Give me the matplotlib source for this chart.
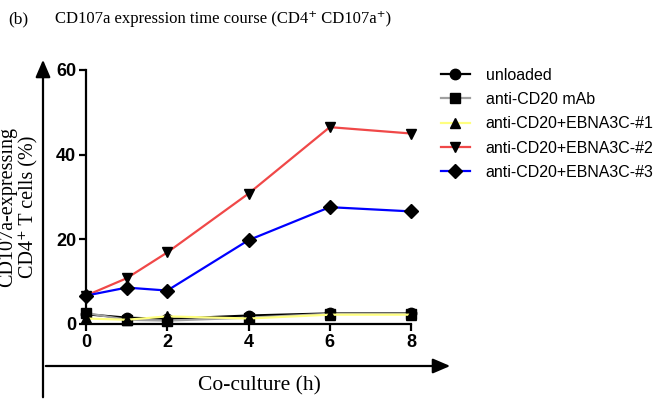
import matplotlib
matplotlib.use("Agg")
import matplotlib.pyplot as plt

time_h = [0, 1, 2, 4, 6, 8]
unloaded = [2.3, 1.5, 1.2, 2.0, 2.5, 2.5]
anti_cd20 = [2.6, 1.0, 0.8, 1.5, 2.4, 2.4]
ebna1 = [1.3, 1.0, 1.8, 1.3, 2.2, 2.2]
ebna2 = [6.7, 10.8, 16.9, 30.8, 46.5, 45.0]
ebna3 = [6.7, 8.6, 7.9, 19.8, 27.6, 26.6]

series_names = ["unloaded", "anti-CD20 mAb", "anti-CD20+EBNA3C-#1",
                "anti-CD20+EBNA3C-#2", "anti-CD20+EBNA3C-#3"]
series_values = [unloaded, anti_cd20, ebna1, ebna2, ebna3]
colors = ["#000000", "#a0a0a0", "#ffff80", "#f04848", "#0000ff"]
markers = ["o", "s", "^", "v", "D"]
x_ticks = [0, 2, 4, 6, 8]
y_ticks = [0, 20, 40, 60]

W, H = 659, 400
fig = plt.figure(figsize=(W / 100, H / 100), dpi=100)

left, right, bottom, top = 86, 411, 324, 70
ax = fig.add_axes([left / W, 1 - bottom / H, (right - left) / W, (bottom - top) / H])

handles = []
for name, vals, c, m in zip(series_names, series_values, colors, markers):
    ms = 7.5 if m != "D" else 7
    (ln,) = ax.plot(time_h, vals, color=c, lw=1.6, marker=m, markersize=ms,
                    markerfacecolor="black", markeredgecolor="black",
                    clip_on=False, label=name, zorder=3)
    handles.append(ln)

ax.set_xlim(0, 8)
ax.set_ylim(0, 60)
ax.set_xticks(x_ticks)
ax.set_yticks(y_ticks)
for s in ["top", "right"]:
    ax.spines[s].set_visible(False)
for s in ["left", "bottom"]:
    ax.spines[s].set_linewidth(1.6)
ax.tick_params(axis="both", direction="out", length=5, width=1.6, pad=2)
for lab in ax.get_xticklabels() + ax.get_yticklabels():
    lab.set_family(["Liberation Sans", "DejaVu Sans"])
    lab.set_fontweight("bold")
    lab.set_fontsize(13)

leg = fig.legend(handles=handles, loc="upper left",
                 bbox_to_anchor=(436 / W, 1 - 63 / H), frameon=False,
                 handlelength=1.8, handletextpad=1.0, labelspacing=0.58,
                 borderaxespad=0, borderpad=0.3,
                 prop={"family": ["Liberation Sans", "DejaVu Sans"], "size": 11.5})

# outer arrows
fig.add_artist(matplotlib.patches.FancyArrowPatch(
    (43 / W, 0.0), (43 / W, 1 - 57 / H), transform=fig.transFigure,
    arrowstyle="-|>,head_length=7,head_width=3", color="black", lw=1.6,
    mutation_scale=1.5))
fig.add_artist(matplotlib.patches.FancyArrowPatch(
    (43 / W, 1 - 366 / H), (453 / W, 1 - 366 / H), transform=fig.transFigure,
    arrowstyle="-|>,head_length=7,head_width=3", color="black", lw=1.6,
    mutation_scale=1.5))

serif = ["Liberation Serif", "DejaVu Serif"]
fig.text(8 / W, 1 - 19 / H, "(b)", family=serif, fontsize=12.5, ha="left", va="center")
fig.text(55 / W, 1 - 19 / H, "CD107a expression time course (CD4\u207a CD107a\u207a)",
         family=serif, fontsize=12, ha="left", va="center")
fig.text(259 / W, 1 - 386 / H, "Co-culture (h)", family=serif, fontsize=15.5,
         ha="center", va="center")
fig.text(18 / W, 1 - 207 / H, "CD107a-expressing\nCD4\u207a T cells (%)", family=serif,
         fontsize=14.5, ha="center", va="center", rotation=90, linespacing=1.15)

fig.savefig("out.png", dpi=100)
